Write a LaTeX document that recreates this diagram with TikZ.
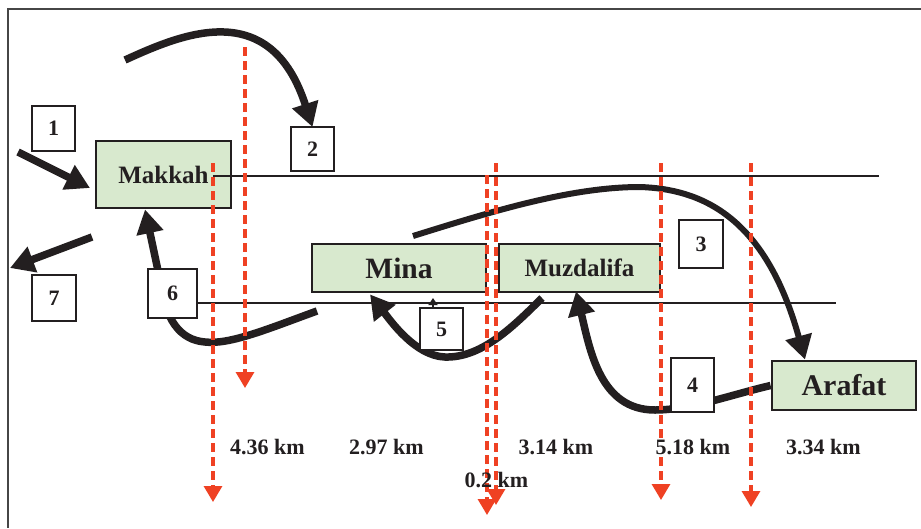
\documentclass[tikz,border=0pt]{standalone}
\usepackage{fontspec}
\setmainfont{Liberation Serif}
\usetikzlibrary{arrows.meta}
\definecolor{boxgreen}{RGB}{216,233,206}
\definecolor{ink}{RGB}{35,31,32}
\definecolor{redline}{RGB}{239,65,35}
\definecolor{framegray}{RGB}{70,70,70}
\tikzset{
 place/.style={draw=ink, line width=2.8pt, fill=boxgreen, inner sep=0pt, text=ink},
 numbox/.style={draw=ink, line width=2pt, fill=white, inner sep=0pt, font=\bfseries\fontsize{22}{24}\selectfont, text=ink},
 bigarrow/.style={draw=ink, line width=7.5pt, -{Triangle[width=26pt,length=24pt]}},
 reddash/.style={draw=redline, line width=3.2pt, dash pattern=on 9pt off 5pt, -{Triangle[width=18pt,length=16pt]}},
 thinline/.style={draw=ink, line width=1.5pt},
 dist/.style={font=\bfseries\fontsize{22}{26}\selectfont, text=ink, inner sep=1pt},
}
\begin{document}
\begin{tikzpicture}[x=1pt,y=1pt]
\fill[white] (0,0) rectangle (921,-528);
\useasboundingbox (0,0) rectangle (921,-528);
% frame
\coordinate (f1) at (921,-9);
\coordinate (f2) at (8,-9);
\coordinate (f3) at (8,-528);
\draw[framegray, line width=1.6pt] (f1) -- (f2) -- (f3);

% places
\node[place, minimum width=135pt, minimum height=67pt, font=\bfseries\fontsize{25}{30}\selectfont] (mak) at (163.5,-174.5) {Makkah};
\node[place, minimum width=174pt, minimum height=48pt, font=\bfseries\fontsize{29.5}{34}\selectfont] (mina) at (399,-268) {Mina};
\node[place, minimum width=161pt, minimum height=48pt, font=\bfseries\fontsize{25}{30}\selectfont] (muz) at (579.5,-268) {Muzdalifa};
\node[place, minimum width=144pt, minimum height=49pt, font=\bfseries\fontsize{30}{34}\selectfont] (ara) at (844,-385.5) {Arafat};

% thin horizontal lines
\coordinate (h1s) at (213,-176);
\coordinate (h1e) at (879,-176);
\coordinate (h2s) at (197,-303);
\coordinate (h2e) at (836,-303);
\draw[thinline] (h1s) -- (h1e);
\draw[thinline] (h2s) -- (h2e);

% thick arrows
\coordinate (a1s) at (18,-152);
\coordinate (a1e) at (90,-188);
\coordinate (a7s) at (92,-237);
\coordinate (a7e) at (10,-268);
\coordinate (a2s) at (125,-60);
\coordinate (a3s) at (413,-236);
\coordinate (a3m) at (640,-187);
\coordinate (a4m) at (655,-410);
\coordinate (a5s) at (542,-298);
\coordinate (a5m) at (445,-357);
\coordinate (a6s) at (317,-311);
\coordinate (a6m) at (205,-342);
\coordinate (a6k) at (160,-280);

\draw[bigarrow] (a1s) -- (a1e);
\draw[bigarrow] (a7s) -- (a7e);
\coordinate (b2top) at (312.5,-127);
\draw[bigarrow] (a2s) .. controls (180,-35) and (270,5) .. (b2top);
\draw[bigarrow, line width=6pt] (a3s) .. controls (490,-212) and (570,-187) .. (a3m) .. controls (700,-189) and (765,-215) .. ([xshift=-39pt]ara.north);
\draw[bigarrow] (ara.west) .. controls (730,-395) and (690,-410) .. (a4m) .. controls (600,-410) and (590,-350) .. ([xshift=-3.5pt,yshift=2pt]muz.south);
\draw[bigarrow] (a5s) .. controls (510,-330) and (480,-358) .. (a5m) .. controls (415,-356) and (390,-320) .. ([xshift=-29pt,yshift=-1pt]mina.south);
\draw[bigarrow] (a6s) .. controls (270,-328) and (230,-345) .. (a6m) .. controls (180,-340) and (165,-320) .. (a6k) -- ([xshift=-18.5pt]mak.south);

% number boxes
\node[numbox, minimum width=43pt, minimum height=45pt] (b1) at (53.5,-128.5) {1};
\node[numbox, minimum width=43pt, minimum height=44pt] (b2) at (312.5,-149) {2};
\node[numbox, minimum width=44pt, minimum height=48pt] (b3) at (701,-244) {3};
\node[numbox, minimum width=43pt, minimum height=54pt] (b4) at (692.5,-385) {4};
\node[numbox, minimum width=43pt, minimum height=42pt] (b5) at (441.5,-329) {5};
\node[numbox, minimum width=49pt, minimum height=49pt] (b6) at (172.5,-293.5) {6};
\node[numbox, minimum width=44pt, minimum height=46pt] (b7) at (54,-298) {7};

% tiny arrow above box 5
\coordinate (t5) at (433,-298);
\draw[ink, line width=1.5pt, -{Triangle[width=9pt,length=7pt]}] (b5.north -| t5) -- (t5);

% red dashed arrows
\coordinate (r1t) at (213,-163); \coordinate (r1b) at (213,-502);
\coordinate (r2t) at (245,-47);  \coordinate (r2b) at (245,-388);
\coordinate (r3t) at (487,-175); \coordinate (r3b) at (487,-515);
\coordinate (r4t) at (496,-163); \coordinate (r4b) at (496,-505);
\coordinate (r5t) at (661,-163); \coordinate (r5b) at (661,-500);
\coordinate (r6t) at (751,-163); \coordinate (r6b) at (751,-507);
\draw[reddash] (r1t) -- (r1b);
\draw[reddash] (r2t) -- (r2b);
\draw[reddash] (r3t) -- (r3b);
\draw[reddash] (r4t) -- (r4b);
\draw[reddash] (r5t) -- (r5b);
\draw[reddash] (r6t) -- (r6b);

% distance labels
\node[dist] (d1) at (267.5,-447) {4.36 km};
\node[dist] (d2) at (386.5,-447) {2.97 km};
\node[dist] (d3) at (556,-447) {3.14 km};
\node[dist, fill=white] (d4) at (693,-447) {5.18 km};
\node[dist] (d5) at (823.5,-447) {3.34 km};
\node[dist] (d6) at (496.5,-480) {0.2 km};
\end{tikzpicture}
\end{document}
